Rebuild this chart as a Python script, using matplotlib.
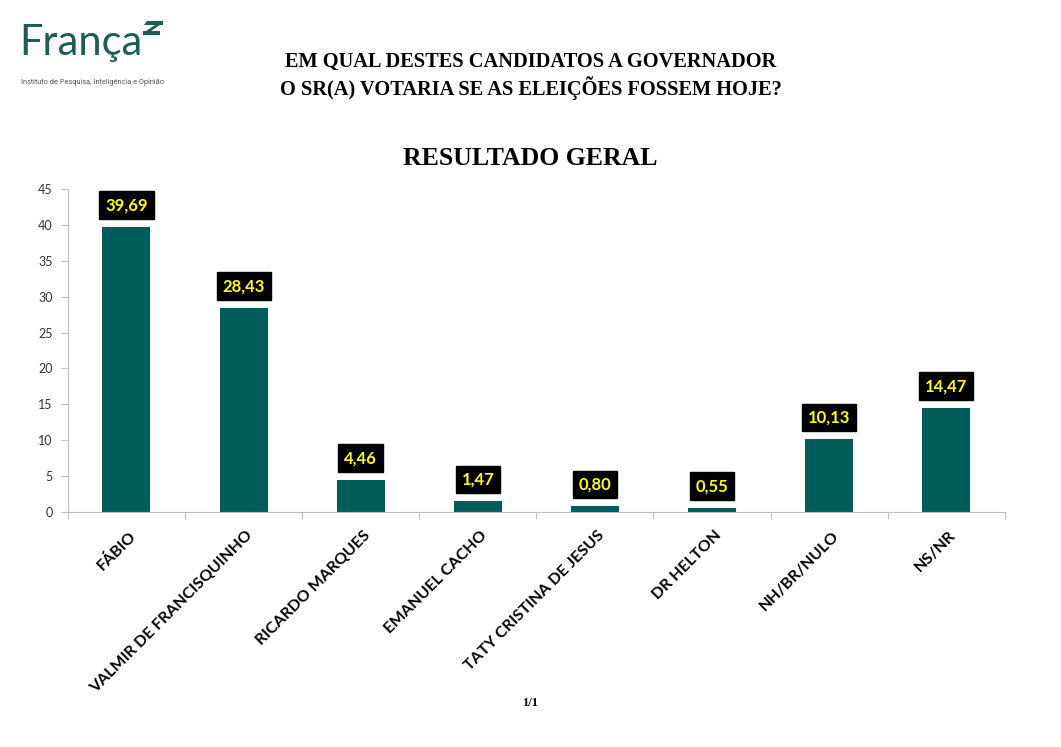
import matplotlib
matplotlib.use("Agg")
import matplotlib.pyplot as plt
from matplotlib.patches import Polygon
import numpy as np

candidatos = ["FÁBIO", "VALMIR DE FRANCISQUINHO", "RICARDO MARQUES", "EMANUEL CACHO",
              "TATY CRISTINA DE JESUS", "DR HELTON", "NH/BR/NULO", "NS/NR"]
percentuais = [39.69, 28.43, 4.46, 1.47, 0.80, 0.55, 10.13, 14.47]
y_ticks = [0, 5, 10, 15, 20, 25, 30, 35, 40, 45]

verde = "#005e5a"
cinza = "#bfbfbf"
W, H = 1061, 747

fig = plt.figure(figsize=(10.61, 7.47), dpi=100)
ax = fig.add_axes([0.064, 0.3146, 0.883, 0.4324])

x = np.arange(len(candidatos))
ax.bar(x, percentuais, width=0.41, color=verde, zorder=2)

for xi, v in zip(x, percentuais):
    ax.annotate(f"{v:.2f}".replace(".", ","), (xi, v), xytext=(0, 10), textcoords="offset points",
                ha="center", va="bottom", color="#ffff00", fontsize=12, fontweight="bold",
                family="Lato",
                bbox=dict(boxstyle="square,pad=0.35", fc="black", ec="black"))

ax.set_xlim(-0.5, len(candidatos) - 0.5)
ax.set_ylim(0, 45)
ax.set_yticks(y_ticks)
ax.set_yticklabels([str(t) for t in y_ticks], fontsize=9, family="Lato", color="#333333")

# ticks between categories like Excel
ax.set_xticks(np.arange(-0.5, len(candidatos) + 0.5, 1))
ax.set_xticklabels([])
ax.tick_params(axis="x", length=5, color=cinza, direction="out")
ax.tick_params(axis="y", length=5, color=cinza, direction="out", pad=6)
for xi, nome in zip(x, candidatos):
    ax.text(xi + 0.02, -2.3, nome, rotation=45, ha="right", va="top", rotation_mode="anchor",
            fontsize=11.5, fontweight="bold", family="Lato")

for s in ["top", "right"]:
    ax.spines[s].set_visible(False)
ax.spines["left"].set_color(cinza)
ax.spines["bottom"].set_color(cinza)

# header
fig.text(0.5, 0.917, "EM QUAL DESTES CANDIDATOS A GOVERNADOR", ha="center", va="center",
         fontsize=14.7, fontweight="bold", family="Liberation Serif")
fig.text(0.5, 0.882, "O SR(A) VOTARIA SE AS ELEIÇÕES FOSSEM HOJE?", ha="center", va="center",
         fontsize=14.7, fontweight="bold", family="Liberation Serif")
fig.text(0.5, 0.788, "RESULTADO GERAL", ha="center", va="center",
         fontsize=18.5, fontweight="bold", family="Liberation Serif")
fig.text(0.5, 0.059, "1/1", ha="center", va="center",
         fontsize=9, fontweight="bold", family="Liberation Serif")

# logo
fig.text(0.018, 0.942, "França", ha="left", va="center", fontsize=30, color="#1b5e57",
         family="Lato")
simbolo = [
    [(147, 21), (163, 21), (163, 25), (144, 25)],
    [(155, 25), (160, 25), (151, 31), (146, 31)],
    [(143, 31), (160, 31), (160, 35), (143, 35)],
]
for poly in simbolo:
    fig.add_artist(Polygon([(px / W, 1 - py / H) for px, py in poly], closed=True,
                           transform=fig.transFigure, fc="#1b5e57", ec="none"))
fig.text(0.020, 0.890, "Instituto de Pesquisa, Inteligência e Opinião", ha="left", va="center",
         fontsize=5.3, color="#555555", family="Roboto")

fig.savefig("out.png", dpi=100)
